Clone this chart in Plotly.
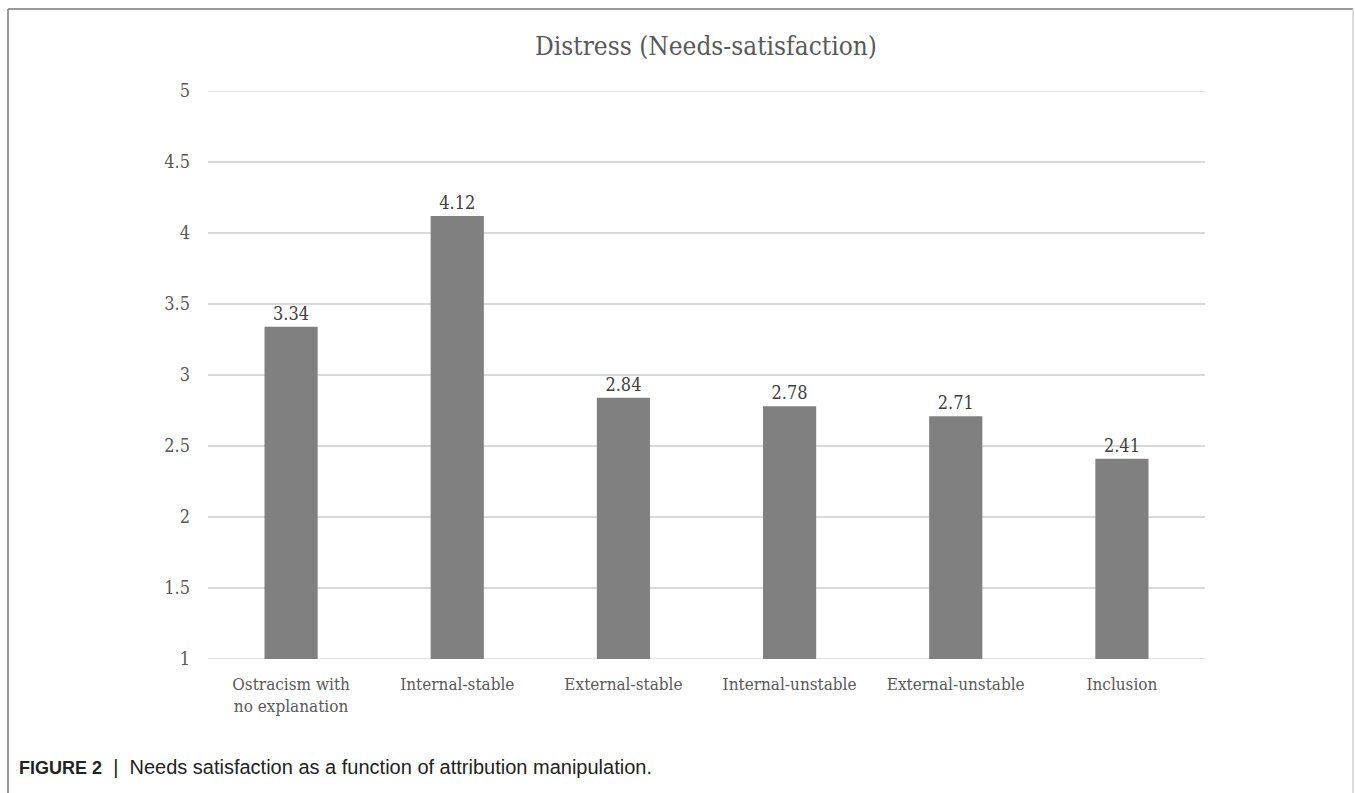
import plotly.graph_objects as go

# Mean distress (needs-satisfaction) score per attribution condition
categories = [
    "Ostracism with<br>no explanation",
    "Internal-stable",
    "External-stable",
    "Internal-unstable",
    "External-unstable",
    "Inclusion",
]
means = [3.34, 4.12, 2.84, 2.78, 2.71, 2.41]
y_ticks = [1, 1.5, 2, 2.5, 3, 3.5, 4, 4.5, 5]

W, H = 1355, 793
L, R, T, B = 208, 150, 91, 134
PW, PH = W - L - R, H - T - B


def px_x(x):
    return (x - L) / PW


def px_y(y):
    return 1 - (y - T) / PH


serif = "DejaVu Serif Condensed, Liberation Serif, serif"
grid_color = "#d9d9d9"

fig = go.Figure(
    go.Bar(
        x=categories,
        y=means,
        base=0,
        marker=dict(color="#808080", line=dict(width=0)),
        text=[f"{v:.2f}" for v in means],
        textposition="outside",
        textfont=dict(family=serif, size=18, color="#404040"),
        cliponaxis=False,
        hoverinfo="x+y",
    )
)

# gridlines on the range ends (plotly skips those at the plot edges)
edge_grid = [
    dict(type="line", xref="paper", yref="y", layer="below",
         x0=0, x1=1, y0=v, y1=v, line=dict(color=grid_color, width=1.5))
    for v in (y_ticks[0], y_ticks[-1])
]

frame = [
    dict(type="line", xref="paper", yref="paper",
         x0=px_x(8), x1=px_x(1353), y0=px_y(9), y1=px_y(9),
         line=dict(color="#7a7a7a", width=1.5)),
    dict(type="line", xref="paper", yref="paper",
         x0=px_x(8), x1=px_x(8), y0=px_y(9), y1=px_y(793),
         line=dict(color="#7a7a7a", width=1.5)),
    dict(type="line", xref="paper", yref="paper",
         x0=px_x(1353), x1=px_x(1353), y0=px_y(9), y1=px_y(793),
         line=dict(color="#d0d0d0", width=1.5)),
]

fig.update_layout(
    width=W,
    height=H,
    margin=dict(l=L, r=R, t=T, b=B, pad=0),
    paper_bgcolor="white",
    plot_bgcolor="white",
    bargap=0.68,
    showlegend=False,
    title=dict(
        text="Distress (Needs-satisfaction)",
        x=706 / W,
        xanchor="center",
        y=1 - 46 / H,
        yanchor="middle",
        font=dict(family=serif, size=26, color="#595959"),
    ),
    xaxis=dict(
        showgrid=False,
        showline=False,
        ticks="",
        tickfont=dict(family=serif, size=17, color="#595959"),
        ticklabelstandoff=13,
    ),
    yaxis=dict(
        range=[y_ticks[0], y_ticks[-1]],
        tickvals=y_ticks,
        ticktext=[f"{v:g}" for v in y_ticks],
        showgrid=True,
        gridcolor=grid_color,
        gridwidth=1.5,
        zeroline=False,
        showline=False,
        ticks="",
        ticklabelstandoff=17,
        tickfont=dict(family=serif, size=18, color="#595959"),
    ),
    shapes=edge_grid + frame,
    annotations=[
        dict(
            text=('<span style="font-size:18px"><b>FIGURE 2</b></span>'
                  "  |  Needs satisfaction as a function of attribution manipulation."),
            xref="paper", yref="paper",
            x=px_x(17), y=px_y(767),
            xanchor="left", yanchor="middle",
            showarrow=False,
            font=dict(family="Liberation Sans, Arial, sans-serif", size=20, color="#222222"),
        )
    ],
)

fig.write_html("out.html")
